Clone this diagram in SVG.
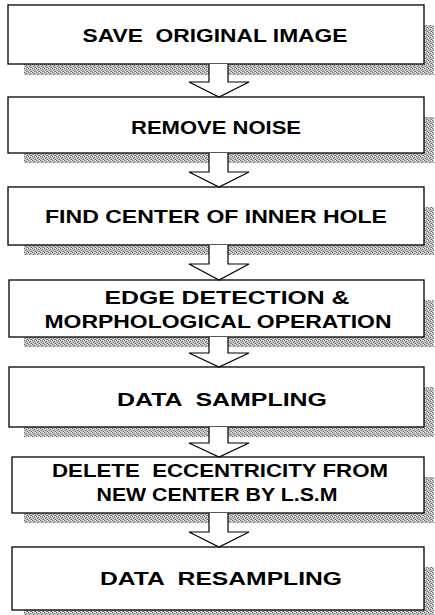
<svg xmlns="http://www.w3.org/2000/svg" width="435" height="615" viewBox="0 0 435 615">
<defs>
<pattern id="dots" width="4" height="4" patternUnits="userSpaceOnUse">
<rect width="4" height="4" fill="#c4c4c4"/>
<rect x="0" y="0" width="1" height="1" fill="#6a6a6a"/>
<rect x="2" y="1" width="1" height="1" fill="#808080"/>
<rect x="1" y="2" width="1" height="1" fill="#777"/>
<rect x="3" y="3" width="1" height="1" fill="#707070"/>
<rect x="2" y="3" width="1" height="1" fill="#999"/>
<rect x="3" y="0" width="1" height="1" fill="#eee"/>
<rect x="1" y="3" width="1" height="1" fill="#e8e8e8"/>
</pattern>
</defs>
<style>
.box{fill:#fff;stroke:#000;stroke-width:1.3}
.sh{fill:url(#dots)}
.t{font-family:"Liberation Sans",Arial,sans-serif;font-weight:bold;font-size:18px;fill:#000;text-anchor:middle;white-space:pre}
.arr{fill:#fff;stroke:#000;stroke-width:1.2;stroke-linejoin:miter}
</style>
<rect width="435" height="615" fill="#fff"/>
<g id="shadows">
<path class="sh" d="M424 25H434V75H24V64H424Z"/>
<path class="sh" d="M424 117H434V163H24V153H424Z"/>
<path class="sh" d="M424 207H434V255H24V245H424Z"/>
<path class="sh" d="M424 300H434V347H24V337H424Z"/>
<path class="sh" d="M424 387H434V437H24V427H424Z"/>
<path class="sh" d="M424 477H434V523H24V513H424Z"/>
<path class="sh" d="M424 567H434V615H24V610H424Z"/>
</g>
<g id="n1"><rect class="box" x="8" y="5" width="416" height="59"/><text class="t" x="215" y="42" textLength="265" lengthAdjust="spacingAndGlyphs" xml:space="preserve">SAVE  ORIGINAL IMAGE</text></g>
<g id="n2"><rect class="box" x="8" y="97" width="416" height="56"/><text class="t" x="216" y="134" textLength="170" lengthAdjust="spacingAndGlyphs">REMOVE NOISE</text></g>
<g id="n3"><rect class="box" x="8" y="187" width="416" height="58"/><text class="t" x="216" y="223" textLength="342" lengthAdjust="spacingAndGlyphs">FIND CENTER OF INNER HOLE</text></g>
<g id="n4"><rect class="box" x="9" y="280" width="415" height="57"/><text class="t" x="227" y="304" textLength="245" lengthAdjust="spacingAndGlyphs">EDGE DETECTION &amp;</text><text class="t" x="218" y="328" textLength="347" lengthAdjust="spacingAndGlyphs">MORPHOLOGICAL OPERATION</text></g>
<g id="n5"><rect class="box" x="9" y="367" width="415" height="60"/><text class="t" x="222" y="406" textLength="210" lengthAdjust="spacingAndGlyphs" xml:space="preserve">DATA  SAMPLING</text></g>
<g id="n6"><rect class="box" x="12" y="457" width="412" height="56"/><text class="t" x="220" y="477" textLength="336" lengthAdjust="spacingAndGlyphs" xml:space="preserve">DELETE  ECCENTRICITY FROM</text><text class="t" x="217" y="501" textLength="241" lengthAdjust="spacingAndGlyphs">NEW CENTER BY L.S.M</text></g>
<g id="n7"><rect class="box" x="12" y="547" width="412" height="63"/><text class="t" x="221" y="585" textLength="242" lengthAdjust="spacingAndGlyphs" xml:space="preserve">DATA  RESAMPLING</text></g>
<g id="connectors">
<path class="arr" d="M209 64V82H189L219 97L249 82H228V64"/>
<path class="arr" d="M209 153V172H189L219 187L249 172H228V153"/>
<path class="arr" d="M209 245V264H189L219 280L249 264H228V245"/>
<path class="arr" d="M209 337V353H189L219 367L249 353H228V337"/>
<path class="arr" d="M209 427V443H189L219 457L249 443H228V427"/>
<path class="arr" d="M209 513V532H189L219 547L249 532H228V513"/>
</g>
</svg>
